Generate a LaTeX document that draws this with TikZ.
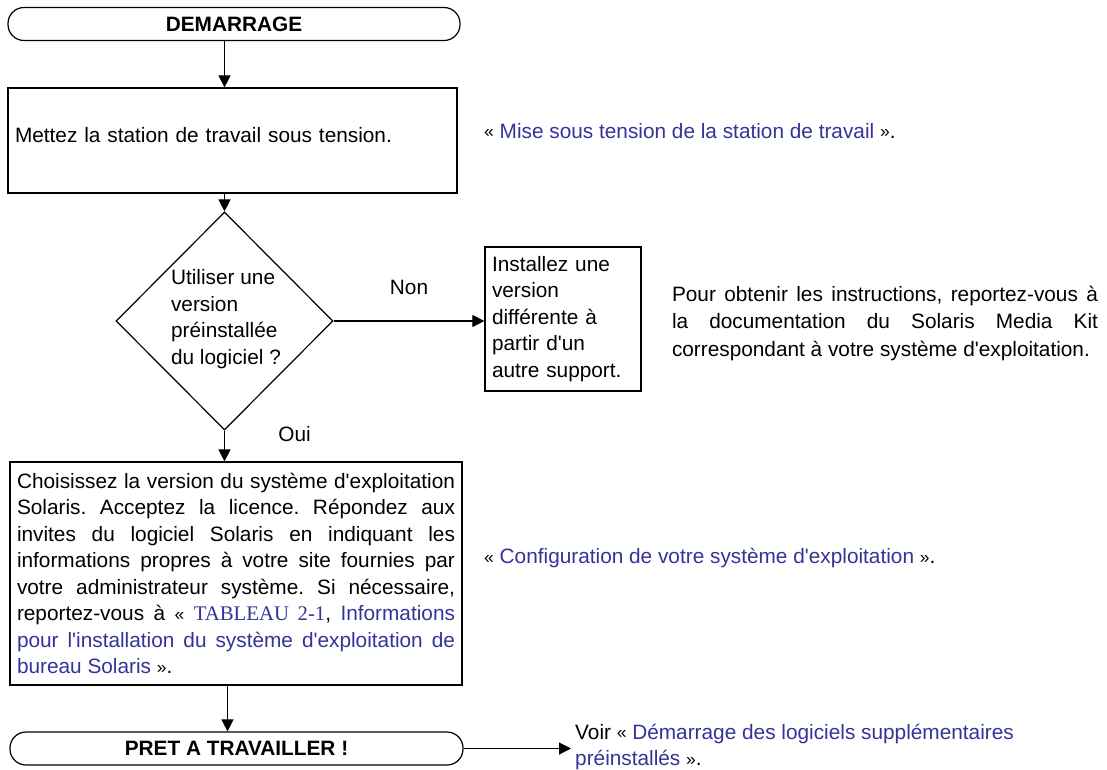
\documentclass[tikz,border=0pt]{standalone}
\usepackage{fontspec}
\newfontfamily\flowsans{Liberation Sans}
\newfontfamily\flowserif{Liberation Serif}
\usetikzlibrary{shapes.geometric,arrows.meta}

\definecolor{linkblue}{RGB}{51,51,153}
\newcommand{\lnk}[1]{\textcolor{linkblue}{#1}}
\newcommand{\gopen}{\raisebox{0.5pt}{\fontsize{17.5}{17.5}\selectfont«}~}
\newcommand{\gclose}{~\raisebox{0.5pt}{\fontsize{17.5}{17.5}\selectfont»}}
\frenchspacing

\begin{document}
\begin{tikzpicture}[x=1pt,y=-1pt,
    every node/.style={font=\fontsize{20.8}{26.5}\selectfont\flowsans},
    terminal/.style={draw,line width=1.2pt,rounded corners=16pt,inner sep=0pt,
      minimum height=33pt,font=\fontsize{20.8}{24}\selectfont\flowsans\bfseries},
    stepbox/.style={draw,line width=1.2pt,inner xsep=7pt,inner ysep=5pt},
    note/.style={inner sep=4pt},
    flow/.style={-{Triangle[length=12pt,width=12pt]},line width=1.1pt}]
    \useasboundingbox (0,0) rectangle (1107,769);

    % Start and end of the flow
    \node[terminal,minimum width=452pt] (start) at (234,24) {DEMARRAGE};
    \node[terminal,minimum width=453pt] (ready) at (236.5,748.5) {PRET A TRAVAILLER !};

    % Steps
    \node[stepbox,minimum width=449pt,minimum height=105pt,text width=435pt,align=left,
      text depth=12pt] (power) at (232.5,140.5) {Mettez la station de travail sous tension.};
    \node[draw,line width=1.2pt,shape=diamond,minimum width=217pt,minimum height=218pt,
      inner sep=0pt] (choice) at (224.5,321) {};
    \node[align=left,inner sep=0pt] (choicetext) at (226,319)
      {Utiliser une\\version\\préinstallée\\du logiciel ?};
    \node[stepbox,minimum width=156pt,minimum height=144pt,text width=142pt,align=left]
      (other) at (563,319) {Installez une\\version\\différente à\\partir d'un\\autre support.};
    \node[stepbox,minimum width=452pt,minimum height=223pt,text width=438pt,align=justify]
      (config) at (236,573.5) {\hyphenpenalty=10000
      Choisissez la version du système d'exploitation\linebreak
      Solaris. Acceptez la licence. Répondez aux\linebreak
      invites du logiciel Solaris en indiquant les\linebreak
      informations propres à votre site fournies par\linebreak
      votre administrateur système. Si nécessaire,\linebreak
      reportez-vous à \gopen\lnk{{\flowserif TABLEAU 2-1}}, \lnk{Informations}\linebreak
      \lnk{pour l'installation du système d'exploitation de}\linebreak
      \lnk{bureau Solaris}\gclose.};

    % References on the right
    \node[note,anchor=west] (powerref) at (480,131)
      {\gopen\lnk{Mise sous tension de la station de travail}\gclose.};
    \node[note,text width=426pt,align=justify,font=\fontsize{20.8}{27.5}\selectfont\flowsans]
      (otherref) at (885,323) {\hyphenpenalty=10000
      Pour obtenir les instructions, reportez-vous à\linebreak
      la documentation du Solaris Media Kit\linebreak
      correspondant à votre système d'exploitation.};
    \node[note,anchor=west] (configref) at (480,558)
      {\gopen\lnk{Configuration de votre système d'exploitation}\gclose.};
    \node[note,anchor=west,align=left] (readyref) at (571,747)
      {Voir \gopen\lnk{Démarrage des logiciels supplémentaires}\\\lnk{préinstallés}\gclose.};

    % Connectors
    \draw[flow] (start.south -| choice.north) -- (power.north -| choice.north);
    \draw[flow] (power.south -| choice.north) -- (choice.north);
    \draw[flow] (choice.east) -- node[above=22pt] {Non} (other.west |- choice.east);
    \draw[flow] (choice.south) -- node[right=50pt,pos=0.1] {Oui} (choice.south |- config.north);
    \draw[flow] ([xshift=3pt]config.south -| choice.south) -- ([xshift=3pt]ready.north -| choice.south);
    \draw[flow] (ready.east) -- (readyref.west |- ready.east);
\end{tikzpicture}
\end{document}
